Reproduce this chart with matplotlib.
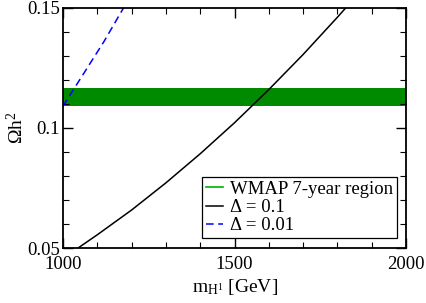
import matplotlib
matplotlib.use('Agg')
import matplotlib.pyplot as plt
from matplotlib.ticker import MultipleLocator, FormatStrFormatter

plt.rcParams['font.family'] = ['Liberation Serif', 'DejaVu Serif']
plt.rcParams['mathtext.fontset'] = 'custom'
plt.rcParams['mathtext.rm'] = 'Liberation Serif'
plt.rcParams['mathtext.it'] = 'Liberation Serif:italic'

# WMAP 7-year band
wmap_low = 0.109
wmap_high = 0.1164

# Delta = 0.1 curve
m_d01 = [1044, 1100, 1200, 1300, 1400, 1500, 1600, 1700, 1800, 1825]
omega_d01 = [0.050, 0.0555, 0.0658, 0.0771, 0.0892, 0.1021, 0.1159, 0.1305, 0.146, 0.150]

# Delta = 0.01 curve
m_d001 = [1000, 1060, 1120, 1177]
omega_d001 = [0.109, 0.1225, 0.136, 0.150]

fig = plt.figure(figsize=(4.27, 3.03), dpi=100)
ax = fig.add_axes([0.1475, 0.1815, 0.8035, 0.7935])

ax.axhspan(wmap_low, wmap_high, color='#008a00', lw=0)
ax.plot([], [], color='#00b000', lw=1.2, label='WMAP 7-year region')
ax.plot(m_d01, omega_d01, color='black', lw=1.1, label='Δ = 0.1')
ax.plot(m_d001, omega_d001, color='blue', lw=1.1, ls=(0, (5, 3)), label='Δ = 0.01')

ax.set_xlim(1000, 2000)
ax.set_ylim(0.05, 0.15)
ax.xaxis.set_major_locator(MultipleLocator(500))
ax.xaxis.set_minor_locator(MultipleLocator(100))
ax.yaxis.set_major_locator(MultipleLocator(0.05))
ax.yaxis.set_minor_locator(MultipleLocator(0.01))
ax.yaxis.set_major_formatter(FormatStrFormatter('%g'))
ax.tick_params(which='both', direction='in', top=True, right=True, labelsize=13.5)
ax.tick_params(which='major', length=7, width=1)
ax.tick_params(which='minor', length=4, width=0.8)
ax.tick_params(axis='x', pad=5.5)
ax.tick_params(axis='y', pad=2)
for s in ax.spines.values():
    s.set_linewidth(1.3)

ax.set_xlabel(r'm$_{\mathrm{H}^{1}}$ [GeV]', fontsize=14, labelpad=3)
ax.set_ylabel(r'$\Omega$h$^{2}$', fontsize=14)
ax.yaxis.set_label_coords(-0.105, 0.5)

leg = ax.legend(loc='lower right', bbox_to_anchor=(0.974, 0.042), borderaxespad=0,
                fontsize=13.5, frameon=True, fancybox=False, edgecolor='black',
                framealpha=1, handlelength=0.9, handletextpad=0.4,
                labelspacing=0.05, borderpad=0.2)
leg.get_frame().set_linewidth(0.9)

fig.savefig('out.png', dpi=100)
